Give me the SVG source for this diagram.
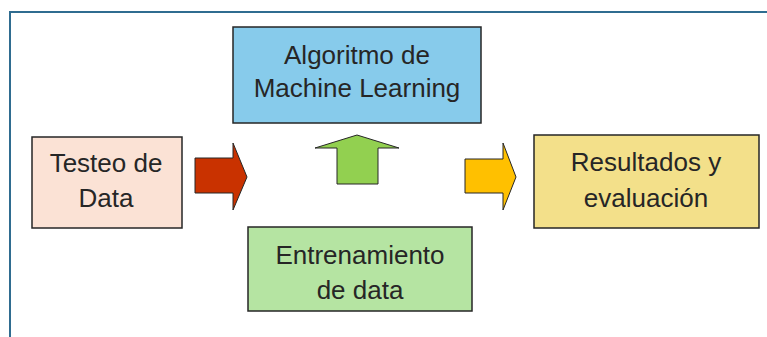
<svg xmlns="http://www.w3.org/2000/svg" width="767" height="337" viewBox="0 0 767 337">
<style>
.box{stroke:#262626;stroke-width:1.5}
.arr{stroke:#262626;stroke-width:1;stroke-linejoin:miter}
text{font-family:"Liberation Sans",Arial,sans-serif;font-size:26px;fill:#262626;text-anchor:middle}
</style>
<rect width="767" height="337" fill="#ffffff"/>
<path d="M10,337 V12 H767" fill="none" stroke="#2F6C90" stroke-width="2"/>
<g id="algoritmo">
<rect class="box" x="233" y="27" width="248" height="96" fill="#87CBEB"/>
<text x="357" y="64">Algoritmo de</text>
<text x="357" y="97">Machine Learning</text>
</g>
<g id="testeo">
<rect class="box" x="32" y="137" width="150" height="91" fill="#FBE2D5"/>
<text x="106" y="172">Testeo de</text>
<text x="106" y="207">Data</text>
</g>
<g id="resultados">
<rect class="box" x="534" y="135" width="225" height="93" fill="#F3E08A"/>
<text x="646" y="171">Resultados y</text>
<text x="646" y="207">evaluación</text>
</g>
<g id="entrenamiento">
<rect class="box" x="248" y="227" width="224" height="84" fill="#B5E4A2"/>
<text x="360" y="264">Entrenamiento</text>
<text x="360" y="299">de data</text>
</g>
<g id="connectors">
<path class="arr" d="M195,158 H233 V143 L247,177 L233,210 V193 H195 Z" fill="#C93200"/>
<path class="arr" d="M337,184 V148 H315 L357,135 L399,148 H378 V184 Z" fill="#92D050"/>
<path class="arr" d="M465,159 H503 V143 L516,177 L503,210 V193 H465 Z" fill="#FFC000"/>
</g>
</svg>
